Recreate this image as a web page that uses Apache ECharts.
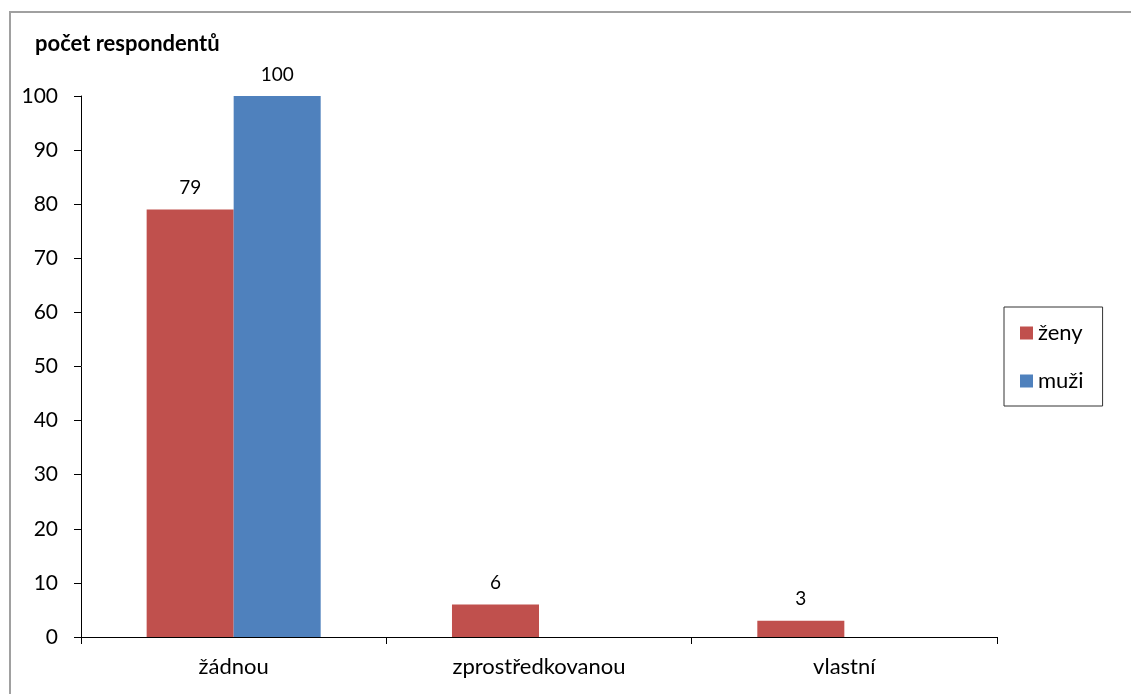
<!DOCTYPE html>
<html>
<head>
<meta charset="utf-8">
<script src="https://cdn.jsdelivr.net/npm/echarts@6/dist/echarts.min.js"></script>
<style>html,body{margin:0;padding:0;background:#fff}#c{width:1131px;height:694px}</style>
</head>
<body>
<div id="c"></div>
<script>
var categories = ['žádnou', 'zprostředkovanou', 'vlastní'];
var zeny = [79, 6, 3];
var muzi = [100, null, null];
var yTicks = [0, 10, 20, 30, 40, 50, 60, 70, 80, 90, 100];
var yTitle = 'počet respondentů';

var FONT = 'Lato';
var chart = echarts.init(document.getElementById('c'));
chart.setOption({
  animation: false,
  backgroundColor: '#fff',
  textStyle: { fontFamily: FONT },
  graphic: [{
    type: 'rect', shape: { x: 10, y: 12, width: 1300, height: 800 },
    style: { fill: 'none', stroke: '#a0a0a0', lineWidth: 2 }, silent: true, z: -1
  }, {
    type: 'text', left: 35, top: 33,
    style: { text: yTitle, font: 'bold 22px ' + FONT, fill: '#000' }
  }],
  grid: { left: 81, right: 134, top: 96, bottom: 57, containLabel: false },
  legend: {
    orient: 'vertical', left: 1004, top: 307,
    padding: [15, 19, 14, 16], itemGap: 26,
    itemWidth: 13, itemHeight: 13, icon: 'rect',
    borderColor: '#333', borderWidth: 1,
    textStyle: { fontSize: 22, color: '#000', fontFamily: FONT },
    data: ['ženy', 'muži']
  },
  xAxis: {
    type: 'category', data: categories,
    axisLine: { lineStyle: { color: '#000', width: 1 } },
    axisTick: { show: true, length: 7, lineStyle: { color: '#000' } },
    axisLabel: { fontSize: 22, color: '#000', margin: 19, fontFamily: FONT }
  },
  yAxis: {
    type: 'value', min: 0, max: 100, interval: 10,
    axisLine: { show: true, lineStyle: { color: '#000', width: 1 } },
    axisTick: { show: true, length: 7, lineStyle: { color: '#000' } },
    splitLine: { show: false },
    axisLabel: { fontSize: 21, color: '#000', margin: 23, fontFamily: FONT,
      formatter: function (v) { return yTicks.indexOf(v) >= 0 ? String(v) : ''; } }
  },
  series: [{
    name: 'ženy', type: 'bar', data: zeny, barGap: '0%', barCategoryGap: '43%',
    itemStyle: { color: '#C0504D' },
    label: { show: true, position: 'top', distance: 12, fontSize: 19, color: '#000', fontFamily: FONT }
  }, {
    name: 'muži', type: 'bar', data: muzi, barGap: '0%', barCategoryGap: '43%',
    itemStyle: { color: '#4F81BD' },
    label: { show: true, position: 'top', distance: 12, fontSize: 19, color: '#000', fontFamily: FONT }
  }]
});
</script>
</body>
</html>
